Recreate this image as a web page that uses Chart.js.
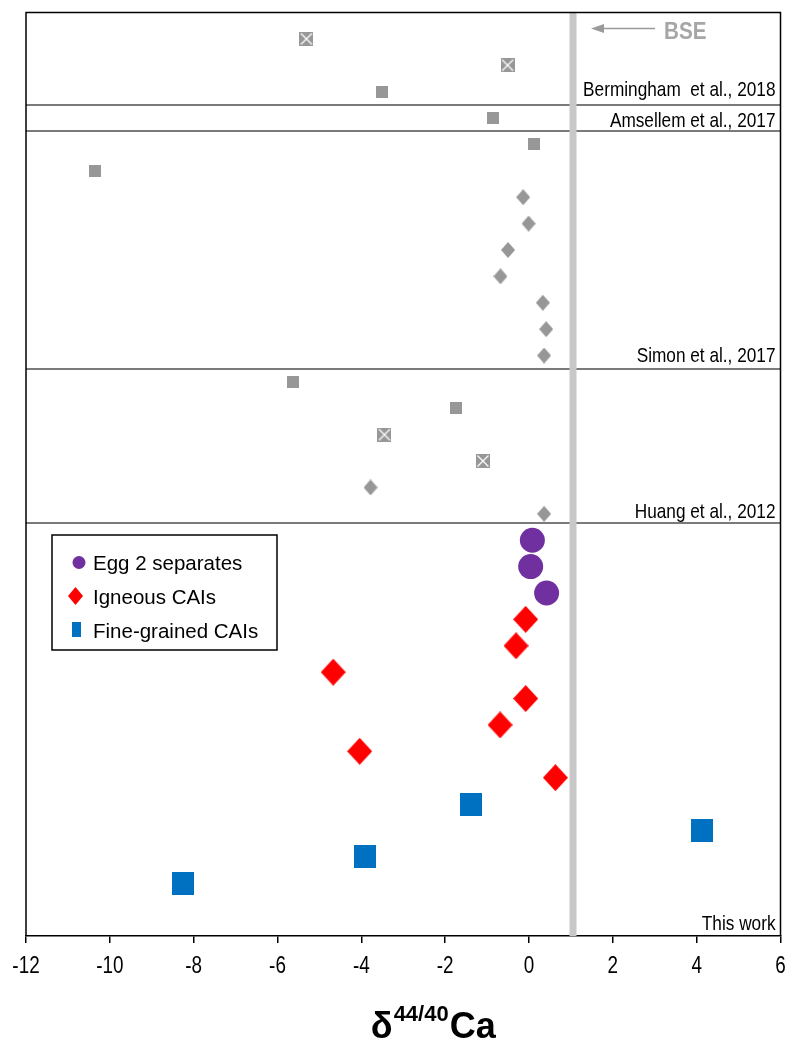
<!DOCTYPE html>
<html>
<head>
<meta charset="utf-8">
<script src="https://cdn.jsdelivr.net/npm/chart.js@4.4.1/dist/chart.umd.min.js"></script>
<style>
  html, body { margin: 0; padding: 0; background: #ffffff; }
  #wrap { width: 793px; height: 1043px; }
</style>
</head>
<body>
<div id="wrap"><canvas id="chart" width="793" height="1043"></canvas></div>
<script>
// δ44/40Ca of CAIs and Egg 2 separates compared with literature values.
const xTickValues = [-12, -10, -8, -6, -4, -2, 0, 2, 4, 6];
const bseValue = 1.05;

// Literature studies (top to bottom), one value per sample row
const berminghamCross  = [-5.31, -0.51];
const berminghamSquare = [-3.51];
const amsellemSquare   = [-0.87];
const simonSquare      = [0.12, -10.35];
const simonDiamond     = [-0.14, -0.01, -0.50, -0.68, 0.33, 0.41, 0.36];
const huangSquare      = [-5.64, -1.73];
const huangCross       = [-3.45, -1.10];
const huangDiamond     = [-3.78, 0.36];

// This work
const egg2Separates    = [0.08, 0.04, 0.42];
const igneousCAIs      = [-0.08, -0.31, -4.67, -0.08, -0.69, -4.04, 0.63];
const fineGrainedCAIs  = [-1.38, 4.12, -3.92, -8.25];

const studyLabels = ['Bermingham  et al., 2018', 'Amsellem et al., 2017', 'Simon et al., 2017', 'Huang et al., 2012', 'This work'];
const legendLabels = ['Egg 2 separates', 'Igneous CAIs', 'Fine-grained CAIs'];

// Each study is a block of consecutive rows; series inside a block follow each other.
const studyBlocks = [
  [berminghamCross, berminghamSquare],
  [amsellemSquare],
  [simonSquare, simonDiamond],
  [huangSquare, huangCross, huangDiamond],
  [egg2Separates, igneousCAIs, fineGrainedCAIs]
];

const SANS = "'Liberation Sans', Arial, sans-serif";
const NARROW_X = 0.82;          // horizontal squeeze for the condensed lettering
const GREY = '#979797';
const PURPLE = '#7030a0';
const RED = '#ff0000';
const BLUE = '#0070c0';

// Assign row numbers in reading order
const rowsOf = new Map();
const blockEnds = [];
let row = 0;
studyBlocks.forEach(block => {
  block.forEach(series => {
    rowsOf.set(series, series.map(() => ++row));
  });
  blockEnds.push(row);
});
const totalRows = row + 2;
const toPoints = series => series.map((v, i) => ({ x: v, y: rowsOf.get(series)[i] }));

// Marker bitmaps
function marker(w, h, paint) {
  const c = document.createElement('canvas');
  c.width = w; c.height = h;
  paint(c.getContext('2d'), w, h);
  return c;
}
const greySquare = marker(12, 12, (g, w, h) => { g.fillStyle = GREY; g.fillRect(0, 0, w, h); });
const greyCross = marker(14, 14, (g, w, h) => {
  g.fillStyle = GREY; g.fillRect(0, 0, w, h);
  g.strokeStyle = '#ffffff'; g.lineWidth = 1.3;
  g.beginPath();
  g.moveTo(1.5, 1.5); g.lineTo(w - 1.5, h - 1.5);
  g.moveTo(w - 1.5, 1.5); g.lineTo(1.5, h - 1.5);
  g.stroke();
});
function diamond(w, h, color) {
  return marker(w, h, (g) => {
    g.fillStyle = color;
    g.beginPath();
    g.moveTo(w / 2, 0); g.lineTo(w, h / 2); g.lineTo(w / 2, h); g.lineTo(0, h / 2);
    g.closePath(); g.fill();
  });
}
const greyDiamond = diamond(14, 16, GREY);
const redDiamond = diamond(25, 27, RED);
const blueSquare = marker(22, 23, (g, w, h) => { g.fillStyle = BLUE; g.fillRect(0, 0, w, h); });

function ds(label, series, style, extra) {
  return Object.assign({
    label: label,
    data: toPoints(series),
    pointStyle: style,
    pointRadius: 8,
    pointBorderWidth: 0,
    showLine: false
  }, extra || {});
}

const datasets = [
  ds('Bermingham cross', berminghamCross, greyCross),
  ds('Bermingham square', berminghamSquare, greySquare),
  ds('Amsellem', amsellemSquare, greySquare),
  ds('Simon square', simonSquare, greySquare),
  ds('Simon diamond', simonDiamond, greyDiamond),
  ds('Huang square', huangSquare, greySquare),
  ds('Huang cross', huangCross, greyCross),
  ds('Huang diamond', huangDiamond, greyDiamond),
  ds(legendLabels[0], egg2Separates, 'circle', { pointRadius: 12.5, backgroundColor: PURPLE, borderColor: PURPLE }),
  ds(legendLabels[1], igneousCAIs, redDiamond),
  ds(legendLabels[2], fineGrainedCAIs, blueSquare)
];

// condensed text: squeeze horizontally around the anchor point
function narrowText(ctx, txt, x, y, align, squeeze) {
  ctx.save();
  ctx.translate(x, y);
  ctx.scale(squeeze, 1);
  ctx.textAlign = align;
  ctx.fillText(txt, 0, 0);
  ctx.restore();
}

// Study separators, BSE band, frame, labels, legend and axis title
const separatorShift = [0.5, 0.5, 0.5, 0.36];
const labelLift = [9, 4, 7, 5, 6];

const decorations = {
  id: 'decorations',
  beforeDatasetsDraw(chart) {
    const { ctx, chartArea: a, scales: { x, y } } = chart;
    ctx.save();
    ctx.strokeStyle = '#7a7a7a';
    ctx.lineWidth = 2;
    blockEnds.slice(0, -1).forEach((end, i) => {
      const py = Math.round(y.getPixelForValue(end + separatorShift[i]));
      ctx.beginPath(); ctx.moveTo(a.left, py); ctx.lineTo(a.right, py); ctx.stroke();
    });
    const bx = x.getPixelForValue(bseValue);
    ctx.fillStyle = '#c8c8c8';
    ctx.fillRect(bx - 3.5, a.top, 7, a.bottom - a.top);
    ctx.restore();
  },
  afterDraw(chart) {
    const { ctx, chartArea: a, scales: { x, y } } = chart;
    ctx.save();
    // frame (bottom edge comes from the x axis)
    ctx.strokeStyle = '#000000';
    ctx.lineWidth = 1.5;
    ctx.beginPath();
    ctx.moveTo(a.left, a.bottom); ctx.lineTo(a.left, a.top);
    ctx.lineTo(a.right, a.top); ctx.lineTo(a.right, a.bottom);
    ctx.stroke();

    // x tick labels
    ctx.fillStyle = '#000000';
    ctx.textBaseline = 'alphabetic';
    ctx.font = '23px ' + SANS;
    xTickValues.forEach(v => {
      narrowText(ctx, String(v), x.getPixelForValue(v), a.bottom + 37, 'center', NARROW_X);
    });

    // study names, right-aligned above each separator
    ctx.font = '21px ' + SANS;
    studyLabels.forEach((txt, i) => {
      const base = i < blockEnds.length - 1
        ? y.getPixelForValue(blockEnds[i] + separatorShift[i])
        : a.bottom;
      narrowText(ctx, txt, a.right - 5, base - labelLift[i], 'right', NARROW_X);
    });

    // BSE arrow
    const bx = x.getPixelForValue(bseValue);
    ctx.strokeStyle = '#9a9a9a';
    ctx.fillStyle = '#9a9a9a';
    ctx.lineWidth = 1.5;
    const ay = a.top + 16;
    ctx.beginPath(); ctx.moveTo(bx + 30, ay); ctx.lineTo(bx + 82, ay); ctx.stroke();
    ctx.beginPath();
    ctx.moveTo(bx + 18, ay); ctx.lineTo(bx + 31, ay - 4.5); ctx.lineTo(bx + 31, ay + 4.5);
    ctx.closePath(); ctx.fill();
    ctx.fillStyle = '#a6a6a6';
    ctx.font = 'bold 24px ' + SANS;
    narrowText(ctx, 'BSE', bx + 91, a.top + 26, 'left', 0.86);

    // legend
    const L = { left: 52, top: 535, right: 277, bottom: 650 };
    ctx.strokeStyle = '#000000';
    ctx.lineWidth = 1.5;
    ctx.strokeRect(L.left, L.top, L.right - L.left, L.bottom - L.top);
    ctx.fillStyle = PURPLE;
    ctx.beginPath(); ctx.arc(79, 562.5, 6.5, 0, Math.PI * 2); ctx.fill();
    ctx.fillStyle = RED;
    ctx.beginPath();
    ctx.moveTo(75.5, 587); ctx.lineTo(83, 596); ctx.lineTo(75.5, 605); ctx.lineTo(68, 596);
    ctx.closePath(); ctx.fill();
    ctx.fillStyle = BLUE;
    ctx.fillRect(72, 622, 9, 15);
    ctx.fillStyle = '#000000';
    ctx.font = '20.5px ' + SANS;
    [569.5, 603.5, 637.5].forEach((by, i) => narrowText(ctx, legendLabels[i], 93, by, 'left', 1));

    // axis title: δ44/40Ca
    const big = 'bold 36px ' + SANS;
    const small = 'bold 22px ' + SANS;
    ctx.font = big; const wD = ctx.measureText('δ').width; const wC = ctx.measureText('Ca').width;
    ctx.font = small; const wS = ctx.measureText('44/40').width;
    const total = wD + 1 + wS + 1 + wC;
    let tx = (a.left + a.right) / 2 + 30 - total / 2;
    const tb = a.bottom + 102;
    ctx.fillStyle = '#000000';
    ctx.textAlign = 'left';
    ctx.font = big; ctx.fillText('δ', tx, tb); tx += wD + 1;
    ctx.font = small; ctx.fillText('44/40', tx, tb - 17); tx += wS + 1;
    ctx.font = big; ctx.fillText('Ca', tx, tb);
    ctx.restore();
  }
};

new Chart(document.getElementById('chart'), {
  type: 'scatter',
  data: { datasets: datasets },
  options: {
    responsive: false,
    animation: false,
    events: [],
    layout: { padding: { left: 26, right: 9.5, top: 9, bottom: 100 } },
    plugins: { legend: { display: false }, tooltip: { enabled: false } },
    scales: {
      x: {
        type: 'linear',
        min: xTickValues[0],
        max: xTickValues[xTickValues.length - 1],
        afterBuildTicks: (s) => { s.ticks = xTickValues.map(v => ({ value: v })); },
        grid: { drawOnChartArea: false, drawTicks: true, tickLength: 7, color: '#000000', lineWidth: 1.5 },
        border: { display: true, color: '#000000', width: 1.5 },
        ticks: { display: false }
      },
      y: {
        type: 'linear',
        display: false,
        reverse: true,
        min: 0,
        max: totalRows
      }
    }
  },
  plugins: [decorations]
});
</script>
</body>
</html>
